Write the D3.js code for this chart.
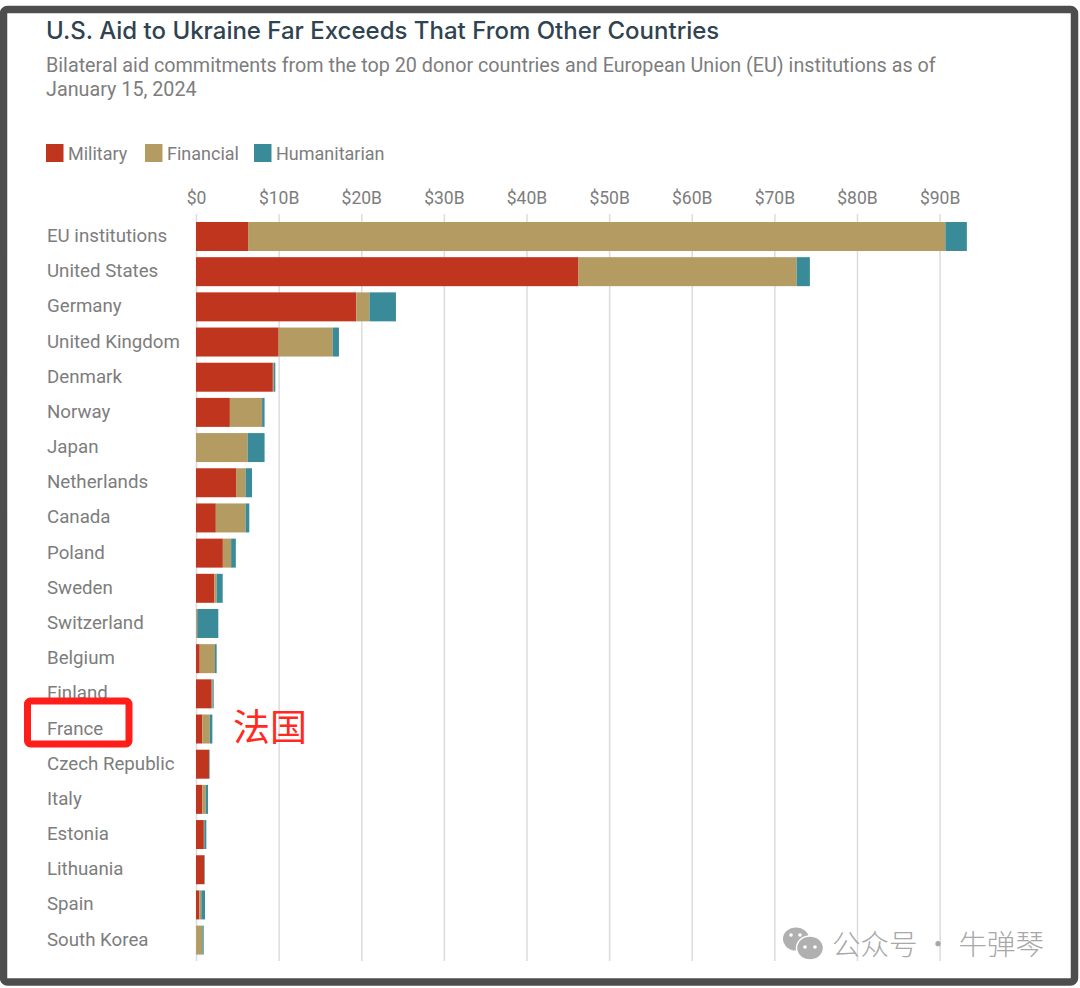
<!doctype html>
<html lang="en">
<head>
  <meta charset="utf-8" />
  <title>U.S. Aid to Ukraine Far Exceeds That From Other Countries</title>
  <style>
    html, body { margin: 0; padding: 0; background: #fff; }
    svg { display: block; }
    .tick line { stroke: #dcdcdc; }
    .domain { display: none; }
  </style>
</head>
<body>
<svg id="chart" width="1080" height="988"></svg>

<script src="https://cdn.jsdelivr.net/npm/d3@7"></script>
<script>

// Data ($ billions)
var countries = ['EU institutions', 'United States', 'Germany', 'United Kingdom', 'Denmark', 'Norway', 'Japan',
  'Netherlands', 'Canada', 'Poland', 'Sweden', 'Switzerland', 'Belgium', 'Finland', 'France', 'Czech Republic',
  'Italy', 'Estonia', 'Lithuania', 'Spain', 'South Korea'];
var military = [6.3, 46.3, 19.4, 10.0, 9.3, 4.1, 0, 4.85, 2.4, 3.25, 2.2, 0.05, 0.45, 1.9, 0.77, 1.57, 0.77, 0.95, 1.0, 0.4, 0.02];
var financial = [84.4, 26.4, 1.6, 6.55, 0.1, 3.9, 6.25, 1.15, 3.6, 1.0, 0.3, 0.1, 1.85, 0.1, 0.89, 0.03, 0.4, 0.05, 0.03, 0.24, 0.75];
var humanitarian = [2.6, 1.6, 3.2, 0.75, 0.2, 0.3, 2.05, 0.78, 0.45, 0.57, 0.73, 2.55, 0.2, 0.14, 0.32, 0.06, 0.28, 0.25, 0.06, 0.45, 0.16];

var seriesNames = ['Military', 'Financial', 'Humanitarian'];
var seriesColors = ['#c0351e', '#b49b62', '#3a8b99'];
var xTicks = [0, 10, 20, 30, 40, 50, 60, 70, 80, 90];

var titleText = 'U.S. Aid to Ukraine Far Exceeds That From Other Countries';
var subtitleLines = ['Bilateral aid commitments from the top 20 donor countries and European Union (EU) institutions as of', 'January 15, 2024'];

var svg = d3.select('#chart');

// Scales
var x = d3.scaleLinear().domain([0, 90]).range([196, 939.6]);
var y = d3.scaleBand().domain(countries).range([222, 954.6]).paddingInner(0.176).paddingOuter(0);
var color = d3.scaleOrdinal().domain(seriesNames).range(seriesColors);

// Frame
svg.append('rect')
  .attr('x', 3.5).attr('y', 9.5)
  .attr('width', 1071).attr('height', 972.5)
  .attr('rx', 4)
  .attr('fill', '#fff')
  .attr('stroke', '#4d4d4d')
  .attr('stroke-width', 7.5);

// Heading
svg.append('text')
  .attr('x', 46).attr('y', 39)
  .attr('font-family', 'Inter, sans-serif')
  .attr('font-size', 24)
  .attr('font-weight', 500)
  .attr('fill', '#2f4351')
  .text(titleText);

svg.selectAll('.subtitle')
  .data(subtitleLines)
  .enter().append('text')
  .attr('class', 'subtitle')
  .attr('x', 46)
  .attr('y', function (d, i) { return 72 + i * 24; })
  .attr('font-family', 'Roboto, sans-serif')
  .attr('font-size', 19.75)
  .attr('fill', '#7d7d7d')
  .text(function (d) { return d; });

// Legend
var legendX = [46, 145, 254];
var legend = svg.selectAll('.legend')
  .data(seriesNames)
  .enter().append('g')
  .attr('class', 'legend')
  .attr('transform', function (d, i) { return 'translate(' + legendX[i] + ',144)'; });
legend.append('rect')
  .attr('width', 17.5).attr('height', 18)
  .attr('fill', function (d) { return color(d); });
legend.append('text')
  .attr('x', 22).attr('y', 16)
  .attr('font-family', 'Roboto, sans-serif')
  .attr('font-size', 18)
  .attr('fill', '#7d7d7d')
  .text(function (d) { return d; });

// Axis and gridlines
var axis = d3.axisTop(x)
  .tickValues(xTicks)
  .tickSize(0)
  .tickFormat(function (d) { return d === 0 ? '$0' : '$' + d + 'B'; });
var axisG = svg.append('g')
  .attr('transform', 'translate(0,214)')
  .call(axis);
axisG.selectAll('.tick line')
  .attr('y2', 747)
  .attr('stroke-width', 1.5);
axisG.selectAll('.tick text')
  .attr('y', -10)
  .attr('font-family', 'Roboto, sans-serif')
  .attr('font-size', 17.5)
  .attr('fill', '#7d7d7d');

// Stacked bars
var rows = countries.map(function (c, i) {
  return { country: c, Military: military[i], Financial: financial[i], Humanitarian: humanitarian[i] };
});
var stacked = d3.stack().keys(seriesNames)(rows);

svg.append('g').selectAll('g')
  .data(stacked)
  .enter().append('g')
  .attr('fill', function (d) { return color(d.key); })
  .selectAll('rect')
  .data(function (d) { return d; })
  .enter().append('rect')
  .attr('x', function (d) { return x(d[0]); })
  .attr('y', function (d) { return y(d.data.country); })
  .attr('width', function (d) { return x(d[1]) - x(d[0]); })
  .attr('height', y.bandwidth());

// Country labels
svg.append('g').selectAll('text')
  .data(countries)
  .enter().append('text')
  .attr('x', 47)
  .attr('y', function (d) { return y(d) + y.bandwidth() / 2 - 1; })
  .attr('dy', '0.35em')
  .attr('font-family', 'Roboto, sans-serif')
  .attr('font-size', 18.7)
  .attr('fill', '#7d7d7d')
  .text(function (d) { return d; });

// Red annotation over France
svg.append('rect')
  .attr('x', 27.5).attr('y', 701)
  .attr('width', 101.5).attr('height', 43)
  .attr('rx', 3)
  .attr('fill', 'none')
  .attr('stroke', '#ff1f1a')
  .attr('stroke-width', 7);
svg.append('text')
  .attr('x', 233).attr('y', 741)
  .attr('font-family', '"Noto Sans CJK SC", sans-serif')
  .attr('font-size', 37)
  .attr('fill', '#ff2a22')
  .text('法国');

// WeChat watermark
var mark = svg.append('g').attr('fill', '#b0b0b0');
mark.append('ellipse').attr('cx', 796).attr('cy', 939).attr('rx', 13).attr('ry', 11.5);
mark.append('ellipse').attr('cx', 810).attr('cy', 948).attr('rx', 13.5).attr('ry', 12)
  .attr('stroke', '#fff').attr('stroke-width', 1.5);
[[791, 935], [800, 935], [805, 947], [815, 947]].forEach(function (p) {
  mark.append('circle').attr('cx', p[0]).attr('cy', p[1]).attr('r', 1.8).attr('fill', '#fff');
});
svg.append('text')
  .attr('x', 832).attr('y', 955)
  .attr('font-family', '"Noto Sans CJK SC", sans-serif')
  .attr('font-size', 28.5)
  .attr('font-weight', 300)
  .attr('fill', '#a8a8a8')
  .text('公众号 · 牛弹琴');

</script>
</body>
</html>
